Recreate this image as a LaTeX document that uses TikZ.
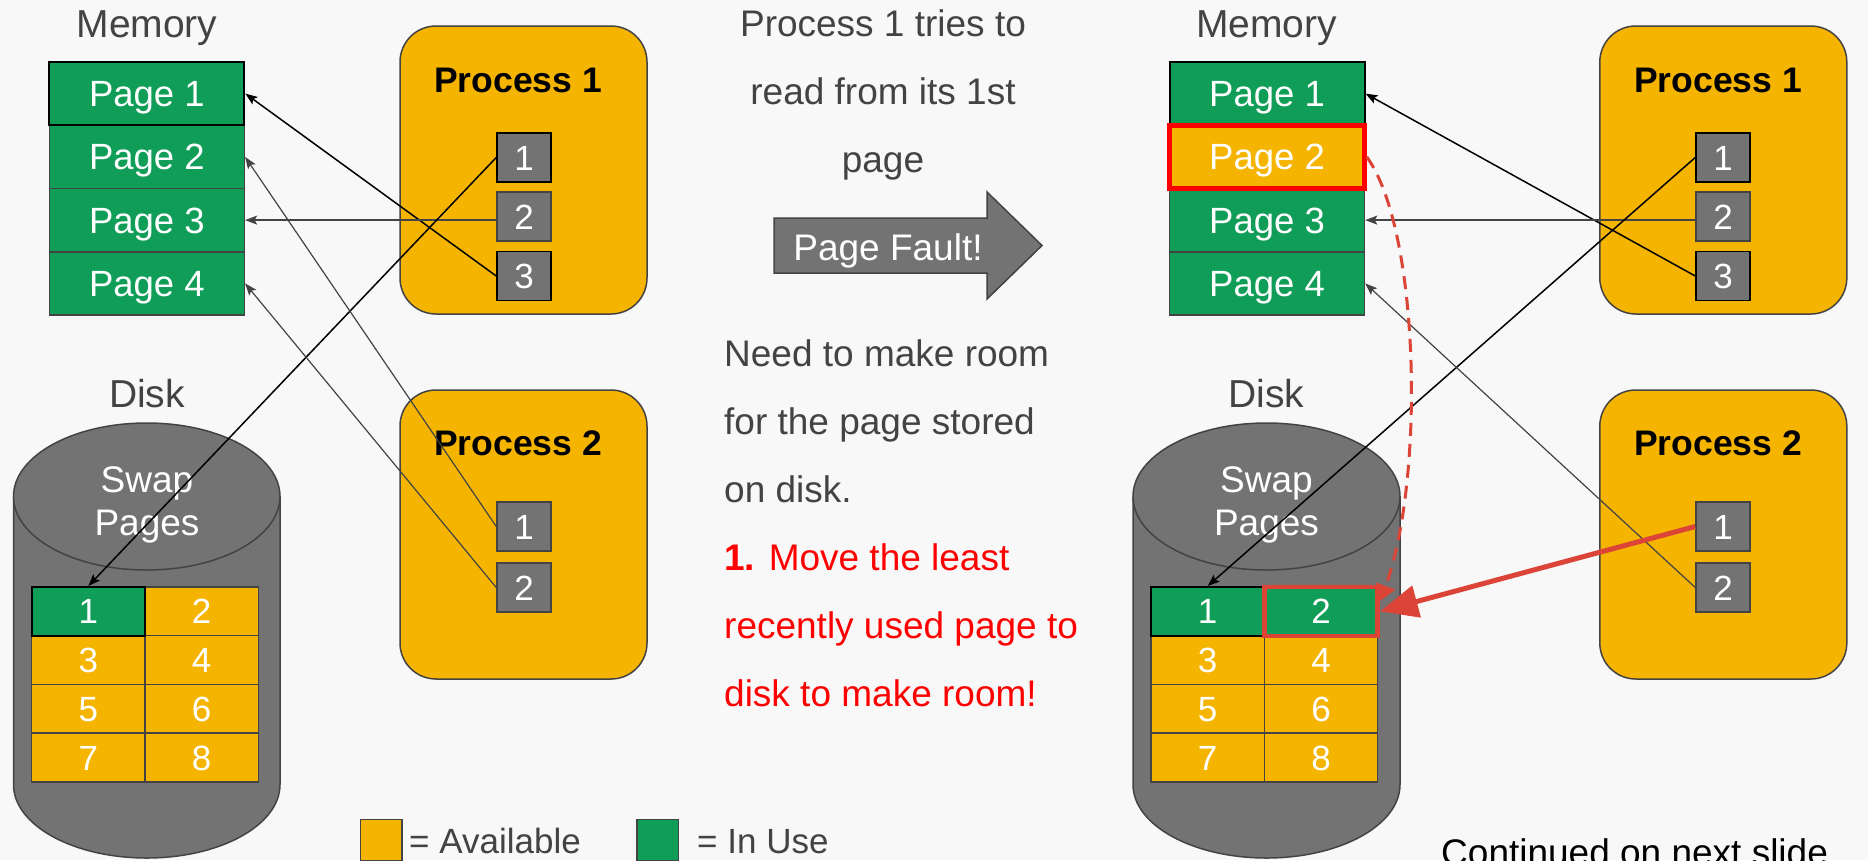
\documentclass[tikz,border=0pt]{standalone}
\usepackage{fontspec}
\setmainfont{Liberation Sans}
\usetikzlibrary{arrows.meta}
\definecolor{bg}{HTML}{F8F8F8}
\definecolor{ggreen}{HTML}{0F9D58}
\definecolor{gyellow}{HTML}{F4B400}
\definecolor{ggray}{HTML}{737373}
\definecolor{dgray}{HTML}{434343}
\definecolor{gred}{HTML}{DB4437}
\definecolor{pred}{HTML}{FF0000}
\begin{document}
\begin{tikzpicture}[x=1pt,y=-1pt,
  pagebox/.style={draw=dgray, line width=1.5pt, fill=ggreen, minimum width=195pt, minimum height=63.25pt, inner sep=0pt, text=white, font=\fontsize{36.5}{36.5}\selectfont, text height=26pt, text depth=0pt},
  procbox/.style={draw=dgray, line width=1.5pt, fill=gyellow, rounded corners=36pt, minimum width=247pt, inner sep=0pt},
  numbox/.style={draw=dgray, line width=1.5pt, fill=ggray, minimum width=54pt, minimum height=49pt, inner sep=0pt, text=white, font=\fontsize{35}{35}\selectfont, text height=25pt, text depth=0pt},
  cellbox/.style={draw=dgray, line width=1.5pt, fill=gyellow, minimum width=113.3pt, minimum height=48.75pt, inner sep=0pt, text=white, font=\fontsize{35}{35}\selectfont, text height=25pt, text depth=0pt},
  title/.style={text=dgray, font=\fontsize{39}{39}\selectfont, inner sep=0pt, anchor=base},
  swaptext/.style={text=white, font=\fontsize{37}{37}\selectfont, inner sep=0pt, anchor=base},
  plabel/.style={text=black, font=\fontsize{35.5}{35.5}\selectfont\bfseries, inner sep=0pt, anchor=base},
  midtext/.style={text=dgray, font=\fontsize{37}{37}\selectfont, inner sep=0pt},
  legbox/.style={draw=dgray, line width=1.5pt, minimum size=41.5pt, inner sep=0pt},
  legtext/.style={text=dgray, font=\fontsize{35}{35}\selectfont, inner sep=0pt, anchor=base west},
  thinarrow/.style={line width=1.5pt, -{Stealth[length=12pt, width=9pt, inset=2.5pt]}},
  cyl/.style={draw=dgray, line width=1.5pt}
]
\useasboundingbox (0,0) rectangle (1868,860);
\fill[bg] (0,0) rectangle (1868,860);

% ---------- left cylinder ----------
\fill[ggray] (13.5,496.5) rectangle (280,784.5);
\fill[ggray] (146.75,784.5) ellipse[x radius=133.25, y radius=73.5];
\draw[cyl] (13.5,496.5) -- (13.5,784.5) arc[start angle=180, end angle=0, x radius=133.25, y radius=73.5] -- (280,496.5);
\filldraw[cyl, fill=ggray] (146.75,496.5) ellipse[x radius=133.25, y radius=73.5];

% ---------- right cylinder ----------
\fill[ggray] (1133,496.5) rectangle (1400,784.5);
\fill[ggray] (1266.5,784.5) ellipse[x radius=133.5, y radius=73.5];
\draw[cyl] (1133,496.5) -- (1133,784.5) arc[start angle=180, end angle=0, x radius=133.5, y radius=73.5] -- (1400,496.5);
\filldraw[cyl, fill=ggray] (1266.5,496.5) ellipse[x radius=133.5, y radius=73.5];

% ---------- titles ----------
\node[title] (lmemt) at (147,37) {Memory};
\node[title] (rmemt) at (1266.5,37) {Memory};
\node[title] (ldiskt) at (147,407) {Disk};
\node[title] (rdiskt) at (1266.5,407) {Disk};
\node[swaptext] (lswap) at (147,492) {Swap};
\node[swaptext] (lpages) at (147,535) {Pages};
\node[swaptext] (rswap) at (1266.5,492) {Swap};
\node[swaptext] (rpages) at (1266.5,535) {Pages};

% ---------- left swap grid ----------
\node[cellbox] (lc2) at (201.6,611.4) {2};
\node[cellbox] (lc3) at (88.3,660.1) {3};
\node[cellbox] (lc4) at (201.6,660.1) {4};
\node[cellbox] (lc5) at (88.3,708.9) {5};
\node[cellbox] (lc6) at (201.6,708.9) {6};
\node[cellbox] (lc7) at (88.3,757.6) {7};
\node[cellbox] (lc8) at (201.6,757.6) {8};
\node[cellbox, fill=ggreen, draw=black, line width=2pt] (lc1) at (88.3,611.4) {1};

% ---------- right swap grid ----------
\node[cellbox] (rc3) at (1207.7,660.1) {3};
\node[cellbox] (rc4) at (1321,660.1) {4};
\node[cellbox] (rc5) at (1207.7,708.9) {5};
\node[cellbox] (rc6) at (1321,708.9) {6};
\node[cellbox] (rc7) at (1207.7,757.6) {7};
\node[cellbox] (rc8) at (1321,757.6) {8};
\node[cellbox, fill=ggreen, draw=black, line width=2pt] (rc1) at (1207.7,611.4) {1};
\node[cellbox, fill=ggreen, draw=gred, line width=4.5pt] (rc2) at (1321,611.4) {2};

% ---------- left memory ----------
\node[pagebox] (lpg2) at (146.85,156.9) {Page 2};
\node[pagebox] (lpg3) at (146.85,220.1) {Page 3};
\node[pagebox] (lpg4) at (146.85,283.4) {Page 4};
\node[pagebox, draw=black, line width=2pt] (lpg1) at (146.85,93.6) {Page 1};

% ---------- right memory ----------
\node[pagebox] (rpg3) at (1267,220.1) {Page 3};
\node[pagebox] (rpg4) at (1267,283.4) {Page 4};
\node[pagebox, draw=black, line width=2pt] (rpg1) at (1267,93.6) {Page 1};
\node[pagebox, fill=gyellow, draw=pred, line width=4.5pt] (rpg2) at (1267,156.9) {Page 2};

% ---------- processes ----------
\node[procbox, minimum height=288pt] (lp1) at (523.5,170) {};
\node[procbox, minimum height=289pt] (lp2) at (523.5,534.5) {};
\node[procbox, minimum height=288pt] (rp1) at (1723.3,170) {};
\node[procbox, minimum height=289pt] (rp2) at (1723.3,534.5) {};
\node[plabel] (lp1t) at (518,92) {Process 1};
\node[plabel] (lp2t) at (518,455) {Process 2};
\node[plabel] (rp1t) at (1718,92) {Process 1};
\node[plabel] (rp2t) at (1718,455) {Process 2};

\node[numbox, draw=black] (lp1b1) at (524,157.5) {1};
\node[numbox] (lp1b2) at (524,216.5) {2};
\node[numbox, draw=black] (lp1b3) at (524,276) {3};
\node[numbox] (lp2b1) at (524,526.5) {1};
\node[numbox] (lp2b2) at (524,587.5) {2};

\node[numbox, draw=black] (rp1b1) at (1723,157.5) {1};
\node[numbox] (rp1b2) at (1723,216.5) {2};
\node[numbox, draw=black] (rp1b3) at (1723,276) {3};
\node[numbox] (rp2b1) at (1723,526.5) {1};
\node[numbox] (rp2b2) at (1723,587.5) {2};

% ---------- page fault arrow ----------
\filldraw[fill=ggray, draw=dgray, line width=1.5pt] (774,218) -- (987,218) -- (987,192) -- (1042,245.5) -- (987,299) -- (987,273) -- (774,273) -- cycle;
\node[midtext, text=white, anchor=base] (pf) at (888,260) {Page Fault!};

% ---------- middle text ----------
\node[midtext, anchor=base] (t1) at (883,36) {Process 1 tries to};
\node[midtext, anchor=base] (t2) at (883,104) {read from its 1st};
\node[midtext, anchor=base] (t3) at (883,172) {page};
\node[midtext, anchor=base west] (t4) at (724,366) {Need to make room};
\node[midtext, anchor=base west] (t5) at (724,434) {for the page stored};
\node[midtext, anchor=base west] (t6) at (724,502) {on disk.};
\node[midtext, text=pred, anchor=base west] (t7) at (724,570) {\textbf{1.} Move the least};
\node[midtext, text=pred, anchor=base west] (t8) at (724,638) {recently used page to};
\node[midtext, text=pred, anchor=base west] (t9) at (724,706) {disk to make room!};

% ---------- legend ----------
\node[legbox, fill=gyellow] (lega) at (381.35,840) {};
\node[legtext] (legat) at (409,853) {= Available};
\node[legbox, fill=ggreen] (legu) at (657.85,840) {};
\node[legtext] (legut) at (697,853) {= In Use};

\node[text=black, font=\fontsize{37}{37}\selectfont, inner sep=0pt, anchor=base west] (cont) at (1441,865.5) {Continued on next slide};

% ---------- left connectors ----------
\draw[thinarrow, black] (lp1b3.west) -- (lpg1.east);
\draw[thinarrow, dgray] (lp1b2.west |- lpg3.east) -- (lpg3.east);
\draw[thinarrow, black] (lp1b1.west) -- (lc1.north);
\draw[thinarrow, dgray, line width=1.2pt] (lp2b1.west) -- (lpg2.east);
\draw[thinarrow, dgray, line width=1.2pt] (lp2b2.west) -- (lpg4.east);

% ---------- right connectors ----------
\draw[thinarrow, black] (rp1b3.west) -- (rpg1.east);
\draw[thinarrow, dgray] (rp1b2.west |- rpg3.east) -- (rpg3.east);
\draw[thinarrow, black] (rp1b1.west) -- (rc1.north);
\draw[thinarrow, dgray, line width=1.2pt] (rp2b2.west) -- (rpg4.east);

\coordinate (dashend) at (1380,601);
\draw[gred, line width=3pt, dash pattern=on 13pt off 8pt, -{Triangle[length=16pt, width=20pt]}] (rpg2.east) .. controls (1420,230) and (1425,480) .. (dashend);
\draw[gred, line width=5pt, -{Triangle[length=38pt, width=32pt]}] (rp2b1.west) -- (rc2.east);
\end{tikzpicture}
\end{document}
